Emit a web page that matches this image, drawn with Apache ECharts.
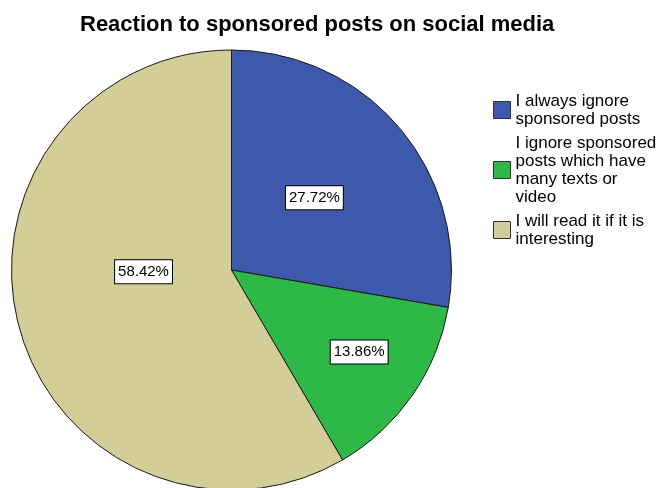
<!DOCTYPE html>
<html>
<head>
<meta charset="utf-8">
<script src="https://cdn.jsdelivr.net/npm/echarts@6/dist/echarts.min.js"></script>
<style>
  html, body { margin: 0; padding: 0; background: #ffffff; }
  #chart { width: 664px; height: 488px; }
</style>
</head>
<body>
<div id="chart"></div>
<script>
// Survey answers and their shares (percent of respondents)
const categories = [
  'I always ignore sponsored posts',
  'I ignore sponsored posts which have many texts or video',
  'I will read it if it is interesting'
];
const legendText = [
  'I always ignore\nsponsored posts',
  'I ignore sponsored\nposts which have\nmany texts or\nvideo',
  'I will read it if it is\ninteresting'
];
const percentages = [27.72, 13.86, 58.42];
const sliceColors = ['#3e58ac', '#2eb848', '#d3ce97'];

// Pie geometry (pixels)
const PIE_CX = 231.5, PIE_CY = 270, PIE_R = 220;
// Where each value box sits: fraction of the radius, and an angular shift (deg) from the slice middle
const labelSpots = [{ f: 0.50, shift: -1 }, { f: 0.69, shift: -2 }, { f: 0.40, shift: 14 }];

const FONT = 'Arial, "Liberation Sans", sans-serif';
const total = percentages.reduce((a, b) => a + b, 0);

const chart = echarts.init(document.getElementById('chart'), null, { renderer: 'canvas' });

chart.setOption({
  backgroundColor: '#ffffff',
  animation: false,
  title: {
    text: 'Reaction to sponsored posts on social media',
    left: 80,
    top: 14,
    padding: 0,
    textStyle: { fontFamily: FONT, fontSize: 22, fontWeight: 'bold', color: '#000000' }
  },
  legend: {
    orient: 'vertical',
    left: 493,
    top: 92,
    padding: 0,
    itemWidth: 17,
    itemHeight: 17,
    itemGap: 6,
    icon: 'rect',
    data: categories,
    formatter: name => legendText[categories.indexOf(name)],
    itemStyle: { borderColor: '#333333', borderWidth: 1 },
    textStyle: { fontFamily: FONT, fontSize: 17, lineHeight: 18, color: '#000000' }
  },
  series: [{
    type: 'pie',
    center: [PIE_CX, PIE_CY],
    radius: [0, PIE_R],
    startAngle: 90,
    clockwise: true,
    avoidLabelOverlap: false,
    silent: true,
    itemStyle: { borderColor: '#1a1a1a', borderWidth: 1 },
    label: {
      show: true,
      position: 'inside',
      formatter: p => p.value.toFixed(2) + '%',
      fontFamily: FONT,
      fontSize: 15,
      lineHeight: 17,
      color: '#000000',
      backgroundColor: '#ffffff',
      borderColor: '#000000',
      borderWidth: 1,
      padding: [3, 3, 3, 3],
      align: 'center',
      verticalAlign: 'middle'
    },
    labelLine: { show: false },
    labelLayout: params => {
      const i = params.dataIndex;
      let cum = 0;
      for (let k = 0; k < i; k++) cum += percentages[k];
      const mid = (cum + percentages[i] / 2) / total * 360 + labelSpots[i].shift;
      const a = mid * Math.PI / 180;
      const r = PIE_R * labelSpots[i].f;
      return {
        x: PIE_CX + r * Math.sin(a),
        y: PIE_CY - r * Math.cos(a),
        align: 'center',
        verticalAlign: 'middle'
      };
    },
    data: categories.map((name, i) => ({
      name: name,
      value: percentages[i],
      itemStyle: { color: sliceColors[i] }
    }))
  }]
});
</script>
</body>
</html>
